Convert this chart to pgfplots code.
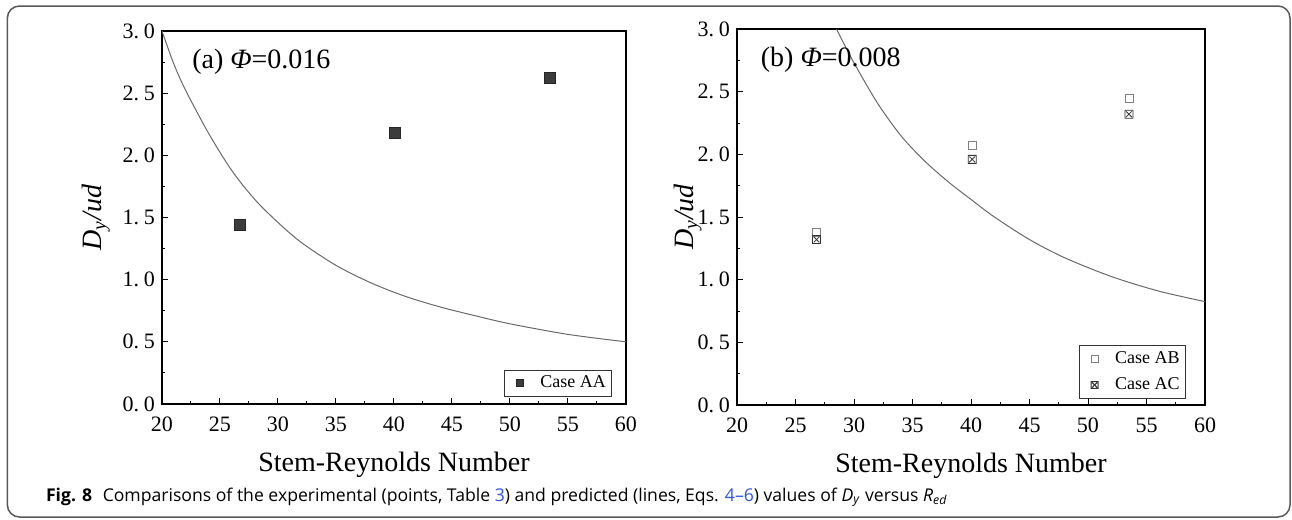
\documentclass[border=0pt]{standalone}
\usepackage{fontspec}
\setmainfont{Liberation Serif}
\newfontfamily\capfont{Open Sans}
\usepackage{pgfplots}
\pgfplotsset{compat=1.18}
\definecolor{linkblue}{RGB}{45,85,225}
\definecolor{curvegray}{RGB}{105,105,105}
\definecolor{markdark}{RGB}{60,60,60}

% square with a cross inside (Case AC)
\pgfdeclareplotmark{boxx}{%
  \pgfpathrectangle{\pgfpoint{-\pgfplotmarksize}{-\pgfplotmarksize}}{\pgfpoint{2\pgfplotmarksize}{2\pgfplotmarksize}}%
  \pgfpathmoveto{\pgfpoint{-0.7\pgfplotmarksize}{-0.7\pgfplotmarksize}}%
  \pgfpathlineto{\pgfpoint{0.7\pgfplotmarksize}{0.7\pgfplotmarksize}}%
  \pgfpathmoveto{\pgfpoint{-0.7\pgfplotmarksize}{0.7\pgfplotmarksize}}%
  \pgfpathlineto{\pgfpoint{0.7\pgfplotmarksize}{-0.7\pgfplotmarksize}}%
  \pgfusepathqstroke}

\newcommand\tl[2]{#1.\hspace{0.22em}#2}
\pgfplotsset{panel/.style={
  scale only axis, anchor=south west,
  xmin=20, xmax=60, ymin=0, ymax=3,
  xtick={20,25,...,60}, ytick={0,0.5,...,3},
  yticklabels={\tl00,\tl05,\tl10,\tl15,\tl20,\tl25,\tl30},
  minor x tick num=1, minor y tick num=1,
  tick align=inside, xtick pos=lower, ytick pos=lower,
  major tick length=3pt, minor tick length=1.7pt,
  axis line style={line width=0.8pt},
  every tick/.style={black, line width=0.5pt},
  tick label style={font=\fontsize{11}{12}\selectfont},
  xticklabel style={yshift=-3pt},
  /pgf/number format/assume math mode=true,
  xlabel={Stem-Reynolds Number},
  ylabel={\textit{D}\textsubscript{\textit{y}}\textit{/ud}},
  label style={font=\fontsize{14}{16}\selectfont},
  xlabel style={at={(axis description cs:0.5,-0.18)}, anchor=base},
  legend cell align=left,
  legend image code/.code={%
    \path (0cm,0cm) (0.52cm,0cm);
    \draw[#1, mark size=1.7pt] plot coordinates {(0.23cm,0cm)};},
  legend style={font=\fontsize{9}{10}\selectfont, draw=black!80,
    line width=0.5pt, anchor=south east, inner xsep=1pt, inner ysep=1pt,
    nodes={inner sep=1.8pt}},
}}

\begin{document}
\begin{tikzpicture}
\path[use as bounding box] (0,0) rectangle (646pt,-260pt);
\draw[rounded corners=6pt, black!65, line width=0.75pt] (3.7pt,-3pt) rectangle (645pt,-258.5pt);

% (a)
\begin{axis}[panel, at={(81pt,-202pt)}, width=232pt, height=186.5pt,
  ylabel style={at={(axis description cs:-0.131,0.5)}, anchor=base},
  legend style={at={(0.970,0.019)}}]
\addplot[only marks, mark=square*, mark size=2.75pt, draw=black!85, fill=markdark]
  coordinates {(26.7,1.44) (40.1,2.18) (53.4,2.62)};
\addlegendentry{Case AA}
\addplot[curvegray, line width=0.5pt, smooth, forget plot] coordinates {
  (20,3.00) (21,2.74) (22,2.53) (24,2.18) (26,1.88) (28,1.645) (30,1.46)
  (32,1.30) (35,1.115) (38,0.975) (41,0.865) (44,0.78) (47,0.71)
  (50,0.645) (55,0.56) (60,0.50)};
\node[anchor=west, font=\fontsize{14}{16}\selectfont] at (rel axis cs:0.05,0.918) {(a) \textit{Φ}=0.016};
\end{axis}

% (b)
\begin{axis}[panel, at={(368.5pt,-202.5pt)}, width=234pt, height=188pt,
  ylabel style={at={(axis description cs:-0.094,0.5)}, anchor=base},
  legend style={at={(0.959,0.017)}, row sep=2pt}]
\addplot[only marks, mark=square, mark size=2pt, draw=black!50]
  coordinates {(26.8,1.38) (40.1,2.07) (53.5,2.45)};
\addlegendentry{Case AB}
\addplot[only marks, mark=boxx, mark size=2pt, draw=black!80]
  coordinates {(26.8,1.32) (40.1,1.96) (53.5,2.32)};
\addlegendentry{Case AC}
\addplot[curvegray, line width=0.5pt, smooth, forget plot] coordinates {
  (28.5,3.00) (30,2.73) (32,2.41) (34,2.15) (36,1.95) (38,1.785)
  (40,1.64) (42,1.50) (45,1.32) (48,1.175) (52,1.025) (56,0.91) (60,0.825)};
\node[anchor=west, font=\fontsize{14}{16}\selectfont] at (rel axis cs:0.036,0.918) {(b) \textit{Φ}=0.008};
\end{axis}

\node[anchor=base west, font=\capfont\fontsize{8.8}{10}\selectfont] at (19.5pt,-250.8pt)
  {\textbf{Fig. 8}\hspace{0.6em}Comparisons of the experimental (points, Table \textcolor{linkblue}{3}) and predicted (lines, Eqs. \textcolor{linkblue}{4–6}) values of \textit{D}\textsubscript{\textit{y}} versus \textit{R}\textsubscript{\textit{ed}}};
\end{tikzpicture}
\end{document}
